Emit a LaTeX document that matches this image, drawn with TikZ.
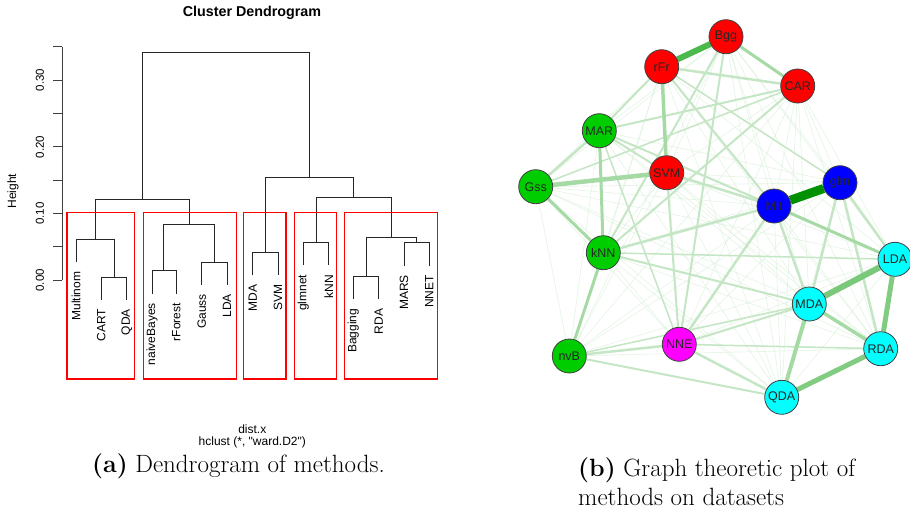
\documentclass[tikz,border=0pt]{standalone}
\usepackage{fontspec}
\newfontfamily\arialf{Liberation Sans}
\pgfdeclarelayer{edges}
\pgfsetlayers{edges,main}
\definecolor{gA}{RGB}{215,238,215}
\definecolor{gB}{RGB}{196,230,196}
\definecolor{gC}{RGB}{165,218,165}
\definecolor{gD}{RGB}{130,204,130}
\definecolor{gE}{RGB}{75,185,75}
\definecolor{gF}{RGB}{0,145,0}
\definecolor{rgreen}{RGB}{0,205,0}
\definecolor{rred}{RGB}{255,0,0}
\definecolor{rblue}{RGB}{0,0,255}
\definecolor{rcyan}{RGB}{0,255,255}
\definecolor{rmag}{RGB}{255,0,255}
\tikzset{
  dline/.style={draw=black!85, line width=1pt},
  axline/.style={draw=black!75, line width=1pt},
  rbox/.style={draw=rred, line width=1.2pt},
  leaf/.style={font=\arialf\fontsize{12}{12}\selectfont, rotate=90, anchor=east, inner sep=0pt},
  ticklab/.style={font=\arialf\fontsize{11.5}{12}\selectfont, rotate=90, inner sep=0pt},
  rtext/.style={font=\arialf\fontsize{12}{12}\selectfont, inner sep=0pt},
  vtx/.style={circle, minimum size=34pt, inner sep=0pt, draw=black!75, line width=0.8pt,
    font=\arialf\fontsize{12.5}{12.5}\selectfont, text=black!85},
  capt/.style={font=\fontsize{25}{29.5}\selectfont, inner sep=0pt},
}
\newcommand\edg[4]{\draw[line width=#3pt, draw=#4] (v#1) -- (v#2);}
\begin{document}
\begin{tikzpicture}[x=1pt,y=-1pt]
\useasboundingbox (0,0) rectangle (910,512);
% ---------- dendrogram ----------
\node[rtext, font=\arialf\bfseries\fontsize{14.3}{15}\selectfont] (title) at (252,13) {Cluster Dendrogram};
\draw[axline] (62.3,46.7) -- (62.3,280.3);
\foreach \k in {0,...,7} \draw[axline] (62.3,280.3-\k*33.37) -- (53.3,280.3-\k*33.37);
\node[ticklab] (t0) at (40,280.3) {0.00};
\node[ticklab] (t1) at (40,213.56) {0.10};
\node[ticklab] (t2) at (40,146.82) {0.20};
\node[ticklab] (t3) at (40,80.08) {0.30};
\node[rtext, rotate=90] (hgt) at (13,191) {Height};
% merges
\draw[dline] (101.3,300) |- (126.7,277.7) -- (126.7,300);
\draw[dline] (76,262.3) |- (114,239.7) -- (114,277.7);
\draw[dline] (152,294) |- (176.3,270.7) -- (176.3,294);
\draw[dline] (201.7,285) |- (227,262) -- (227,285);
\draw[dline] (163.7,270.7) |- (214.3,224.3) -- (214.3,262);
\draw[dline] (95,239.7) |- (189,199.7) -- (189,224.3);
\draw[dline] (252.7,275.3) |- (278,252.3) -- (278,275.3);
\draw[dline] (303.3,265.3) |- (328.7,242.7) -- (328.7,265.3);
\draw[dline] (353.3,299.3) |- (378.7,276.7) -- (378.7,299.3);
\draw[dline] (404,265.7) |- (429.3,242.7) -- (429.3,265.7);
\draw[dline] (366,276.7) |- (416.7,237.7) -- (416.7,242.7);
\draw[dline] (316,242.7) |- (391.3,197.7) -- (391.3,237.7);
\draw[dline] (265.3,252.3) |- (353.3,177.3) -- (353.3,197.7);
\draw[dline] (142.3,199.7) |- (309.3,52.3) -- (309.3,177.3);
% leaf labels
\node[leaf] (l1) at (76,271.5) {Multinom};
\node[leaf] (l2) at (101.3,309) {CART};
\node[leaf] (l3) at (126.7,309) {QDA};
\node[leaf] (l4) at (152,303) {naiveBayes};
\node[leaf] (l5) at (176.3,303) {rForest};
\node[leaf] (l6) at (201.7,294) {Gauss};
\node[leaf] (l7) at (227,294) {LDA};
\node[leaf] (l8) at (252.7,284.5) {MDA};
\node[leaf] (l9) at (278,284.5) {SVM};
\node[leaf] (l10) at (303.3,274.5) {glmnet};
\node[leaf] (l11) at (328.7,274.5) {kNN};
\node[leaf] (l12) at (353.3,308.5) {Bagging};
\node[leaf] (l13) at (378.7,308.5) {RDA};
\node[leaf] (l14) at (404,275) {MARS};
\node[leaf] (l15) at (429.3,275) {NNET};
% red boxes
\draw[rbox] (67,212.7) rectangle (134.3,379);
\draw[rbox] (143.3,212.7) rectangle (236.3,379);
\draw[rbox] (243.7,212.7) rectangle (286,379);
\draw[rbox] (294.3,212.7) rectangle (336.3,379);
\draw[rbox] (344.3,212.7) rectangle (437.3,379);
\node[rtext] (xl) at (252.3,429.3) {dist.x};
\node[rtext] (hc) at (252.3,442.3) {hclust (*, "ward.D2")};
% ---------- graph ----------
\node[vtx, fill=rred] (vBgg) at (726,36.7) {Bgg};
\node[vtx, fill=rred] (vrFr) at (661.7,66.7) {rFr};
\node[vtx, fill=rred] (vCAR) at (797.7,86) {CAR};
\node[vtx, fill=rgreen] (vMAR) at (599.3,130.7) {MAR};
\node[vtx, fill=rred] (vSVM) at (666.7,172.7) {SVM};
\node[vtx, fill=rgreen] (vGss) at (535.7,186.7) {Gss};
\node[vtx, fill=rblue] (vglm) at (840,182.7) {glm};
\node[vtx, fill=rblue] (vMlt) at (774,206) {Mlt};
\node[vtx, fill=rgreen] (vkNN) at (603.3,252.7) {kNN};
\node[vtx, fill=rcyan] (vLDA) at (895,259.3) {LDA};
\node[vtx, fill=rcyan] (vMDA) at (809.3,304) {MDA};
\node[vtx, fill=rmag] (vNNE) at (679.3,344.3) {NNE};
\node[vtx, fill=rgreen] (vnvB) at (569.3,356) {nvB};
\node[vtx, fill=rcyan] (vRDA) at (880.7,348.7) {RDA};
\node[vtx, fill=rcyan] (vQDA) at (781.7,397.3) {QDA};
\begin{pgfonlayer}{edges}
\foreach \a [count=\i] in {Bgg,rFr,CAR,MAR,SVM,Gss,glm,Mlt,kNN,LDA,MDA,NNE,nvB,RDA,QDA}{
  \foreach \b [count=\j] in {Bgg,rFr,CAR,MAR,SVM,Gss,glm,Mlt,kNN,LDA,MDA,NNE,nvB,RDA,QDA}{
    \ifnum\j>\i \draw[draw=gA, line width=0.7pt, opacity=0.6] (v\a) -- (v\b); \fi
  }
}
\edg{CAR}{MAR}{2}{gB}
\edg{MAR}{Mlt}{2}{gB}
\edg{MAR}{rFr}{2}{gB}
\edg{Bgg}{NNE}{2}{gB}
\edg{nvB}{QDA}{2}{gB}
\edg{MAR}{SVM}{2}{gB}
\edg{CAR}{Gss}{1.5}{gB}
\edg{CAR}{kNN}{2}{gB}
\edg{Bgg}{kNN}{2}{gB}
\edg{rFr}{Mlt}{2}{gB}
\edg{rFr}{glm}{1.5}{gB}
\edg{MDA}{NNE}{2}{gB}
\edg{MDA}{nvB}{1.5}{gB}
\edg{kNN}{LDA}{1.5}{gB}
\edg{kNN}{MDA}{2}{gB}
\edg{SVM}{NNE}{2}{gB}
\edg{MAR}{NNE}{1.5}{gB}
\edg{NNE}{RDA}{1.5}{gB}
\edg{glm}{LDA}{2.5}{gB}
\edg{glm}{RDA}{2.5}{gB}
\edg{glm}{MDA}{2.5}{gB}
\edg{Mlt}{MDA}{2.5}{gB}
\edg{MAR}{Gss}{2.5}{gB}
\edg{nvB}{NNE}{2.5}{gB}
\edg{NNE}{QDA}{2.5}{gB}
\edg{rFr}{CAR}{2.5}{gB}
\edg{SVM}{Mlt}{2.5}{gB}
\edg{kNN}{Mlt}{2.5}{gB}
\edg{NNE}{Mlt}{2.5}{gB}
\edg{rFr}{SVM}{3.5}{gC}
\edg{MDA}{RDA}{3.5}{gC}
\edg{Bgg}{CAR}{3}{gC}
\edg{Mlt}{LDA}{3}{gC}
\edg{Gss}{kNN}{3}{gC}
\edg{kNN}{nvB}{3}{gC}
\edg{MAR}{kNN}{3}{gC}
\edg{MDA}{QDA}{4}{gC}
\edg{SVM}{Gss}{4.5}{gC}
\edg{LDA}{RDA}{5}{gD}
\edg{RDA}{QDA}{5}{gD}
\edg{LDA}{MDA}{6}{gD!85!gE}
\edg{rFr}{Bgg}{6}{gE}
\edg{Mlt}{glm}{9}{gF}
\end{pgfonlayer}
% ---------- captions ----------
\node[capt] (capa) at (238.5,466) {\textbf{(a)} Dendrogram of methods.};
\node[capt, anchor=west, align=left] (capb) at (578,481.5) {\textbf{(b)} Graph theoretic plot of\\methods on datasets};
\end{tikzpicture}
\end{document}
